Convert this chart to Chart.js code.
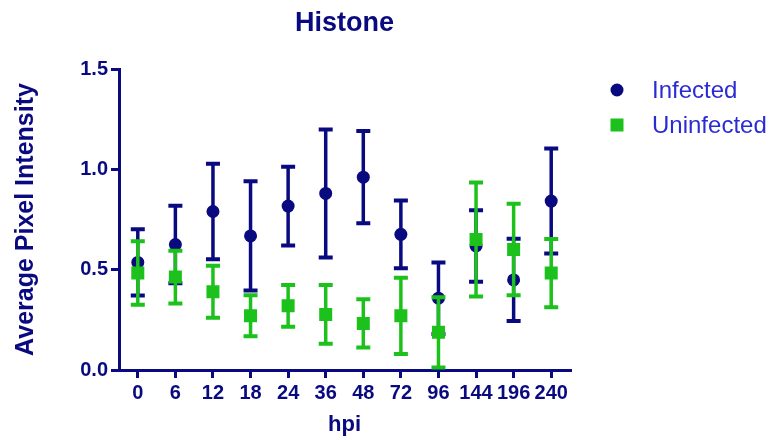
<!DOCTYPE html>
<html>
<head>
<meta charset="utf-8">
<script src="https://cdn.jsdelivr.net/npm/chart.js@4/dist/chart.umd.min.js"></script>
<style>
  html, body { margin: 0; padding: 0; background: #fff; }
  #wrap { position: relative; width: 770px; height: 440px; }
</style>
</head>
<body>
<div id="wrap"><canvas id="chart"></canvas></div>
<script>
// values (mean +/- error)
const hpiLabels = ['0', '6', '12', '18', '24', '36', '48', '72', '96', '144', '196', '240'];
const infectedMean = [0.536, 0.625, 0.790, 0.668, 0.817, 0.880, 0.961, 0.676, 0.358, 0.618, 0.449, 0.842];
const infectedErr = [0.165, 0.193, 0.238, 0.272, 0.196, 0.319, 0.230, 0.169, 0.178, 0.178, 0.205, 0.262];
const uninfectedMean = [0.483, 0.463, 0.390, 0.270, 0.320, 0.277, 0.232, 0.270, 0.188, 0.650, 0.600, 0.483];
const uninfectedErr = [0.158, 0.131, 0.130, 0.102, 0.104, 0.146, 0.120, 0.190, 0.175, 0.284, 0.228, 0.170];
const yTicks = [0, 0.5, 1.0, 1.5];

const NAVY = '#0a0a80';
const GREEN = '#1cc11c';
const LEGEND_TEXT = '#2b2bd4';
const FONT = "'Liberation Sans', Arial, sans-serif";

// vertical error bars with caps, drawn under each dataset's markers
const errorBarPlugin = {
  id: 'errorBars',
  beforeDatasetDraw(chart, args) {
    const ds = chart.data.datasets[args.index];
    if (!ds.errors) return;
    const yScale = chart.scales.y;
    const ctx = chart.ctx;
    const meta = args.meta;
    ctx.save();
    ctx.strokeStyle = ds.borderColor;
    ctx.lineCap = 'butt';
    meta.data.forEach((pt, i) => {
      const v = ds.data[i];
      const e = ds.errors[i];
      const top = yScale.getPixelForValue(v + e);
      const bot = yScale.getPixelForValue(Math.max(0, v - e));
      ctx.lineWidth = 3.5;
      ctx.beginPath();
      ctx.moveTo(pt.x, top);
      ctx.lineTo(pt.x, bot);
      ctx.stroke();
      ctx.lineWidth = 4;
      ctx.beginPath();
      ctx.moveTo(pt.x - 7, top);
      ctx.lineTo(pt.x + 7, top);
      ctx.moveTo(pt.x - 7, bot);
      ctx.lineTo(pt.x + 7, bot);
      ctx.stroke();
    });
    ctx.restore();
  }
};

// legend to the right of the plot, markers spaced like the original
const sideLegendPlugin = {
  id: 'sideLegend',
  afterDraw(chart) {
    const ctx = chart.ctx;
    const area = chart.chartArea;
    ctx.save();
    chart.data.datasets.forEach((ds, i) => {
      const cx = area.right + 47;
      const cy = area.top + 21 + i * 35;
      ctx.fillStyle = ds.backgroundColor;
      ctx.beginPath();
      if (ds.pointStyle === 'rect') {
        ctx.rect(cx - 6.5, cy - 6.5, 13, 13);
      } else {
        ctx.arc(cx, cy, 6.5, 0, Math.PI * 2);
      }
      ctx.fill();
      ctx.fillStyle = LEGEND_TEXT;
      ctx.font = '24px ' + FONT;
      ctx.textBaseline = 'middle';
      ctx.textAlign = 'left';
      ctx.fillText(ds.label, area.right + 82, cy + 1);
    });
    ctx.restore();
  }
};

new Chart(document.getElementById('chart'), {
  type: 'line',
  data: {
    labels: hpiLabels,
    datasets: [
      {
        label: 'Infected',
        data: infectedMean,
        errors: infectedErr,
        showLine: false,
        pointStyle: 'circle',
        pointRadius: 6.5,
        pointHoverRadius: 6.5,
        backgroundColor: NAVY,
        borderColor: NAVY,
        pointBorderWidth: 0,
        order: 2
      },
      {
        label: 'Uninfected',
        data: uninfectedMean,
        errors: uninfectedErr,
        showLine: false,
        pointStyle: 'rect',
        pointRadius: 9.2,
        pointHoverRadius: 9.2,
        backgroundColor: GREEN,
        borderColor: GREEN,
        pointBorderWidth: 0,
        order: 1
      }
    ]
  },
  options: {
    responsive: true,
    maintainAspectRatio: false,
    animation: false,
    layout: { padding: { left: 0, right: 200, top: 0, bottom: 0 } },
    plugins: {
      legend: { display: false },
      tooltip: { enabled: false },
      title: {
        display: true,
        fullSize: false,
        text: 'Histone',
        color: NAVY,
        font: { family: FONT, size: 27, weight: 'bold' },
        padding: { top: 7, bottom: 29.6 }
      }
    },
    scales: {
      x: {
        type: 'category',
        offset: true,
        grid: { display: true, drawOnChartArea: false, offset: false, color: NAVY, lineWidth: 3, tickLength: 8 },
        border: { display: true, color: NAVY, width: 3 },
        ticks: {
          color: NAVY,
          font: { family: FONT, size: 20, weight: 'bold' },
          padding: 3,
          maxRotation: 0,
          autoSkip: false
        },
        title: {
          display: true,
          text: 'hpi',
          color: NAVY,
          font: { family: FONT, size: 22, weight: 'bold' },
          padding: { top: 0, bottom: 2 }
        },
        afterFit(scale) { scale.height = 70; }
      },
      y: {
        min: 0,
        max: 1.5,
        afterBuildTicks(scale) { scale.ticks = yTicks.map(v => ({ value: v })); },
        grid: { display: true, drawOnChartArea: false, color: NAVY, lineWidth: 3, tickLength: 8 },
        border: { display: true, color: NAVY, width: 3 },
        ticks: {
          color: NAVY,
          font: { family: FONT, size: 20, weight: 'bold' },
          padding: 3,
          callback: v => Number(v).toFixed(1)
        },
        title: {
          display: true,
          text: 'Average Pixel Intensity',
          color: NAVY,
          font: { family: FONT, size: 25, weight: 'bold' },
          padding: { top: 11, bottom: 0 }
        },
        afterFit(scale) { scale.width = 119; }
      }
    }
  },
  plugins: [errorBarPlugin, sideLegendPlugin]
});
</script>
</body>
</html>
